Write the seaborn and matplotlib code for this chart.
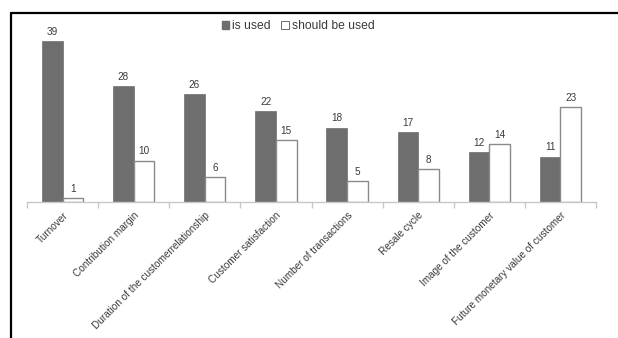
import matplotlib
matplotlib.use("Agg")
import matplotlib.pyplot as plt
import seaborn as sns
import pandas as pd
from matplotlib.lines import Line2D
from matplotlib.patches import Patch

categories = ["Turnover", "Contribution margin", "Duration of the customerrelationship",
              "Customer satisfaction", "Number of transactions", "Resale cycle",
              "Image of the customer", "Future monetary value of customer"]
is_used = [39, 28, 26, 22, 18, 17, 12, 11]
should_be_used = [1, 10, 6, 15, 5, 8, 14, 23]
series = ["is used", "should be used"]

df = pd.DataFrame({
    "category": categories * 2,
    "value": is_used + should_be_used,
    "series": [series[0]] * len(categories) + [series[1]] * len(categories),
})

sns.set_theme(style="white")
plt.rcParams["font.family"] = ["Liberation Sans", "DejaVu Sans"]

fig = plt.figure(figsize=(6.18, 3.38), dpi=100)
ax = fig.add_axes([27/618, 136/338, (596-27)/618, 182/338])

dark = "#6e6e6e"
edge = "#8a8a8a"
txt = "#3a3a3a"
sns.barplot(data=df, x="category", y="value", hue="series", order=categories,
            hue_order=series, palette=[dark, "white"], width=0.58, ax=ax,
            legend=False, saturation=1)

for i, cont in enumerate(ax.containers):
    for p in cont.patches:
        if i == 0:
            p.set_edgecolor(dark)
            p.set_linewidth(0.5)
        else:
            p.set_edgecolor(edge)
            p.set_linewidth(1.0)
    ax.bar_label(cont, labels=[str(v) for v in (is_used if i == 0 else should_be_used)],
                 padding=3, fontsize=7.2, color=txt)

ax.set_ylim(0, 44)
ax.set_xlim(-0.5, len(categories) - 0.5)
ax.set_xlabel("")
ax.set_ylabel("")
ax.set_yticks([])
for s in ["top", "right", "left"]:
    ax.spines[s].set_visible(False)
ax.spines["bottom"].set_color("#c8c8c8")
ax.spines["bottom"].set_linewidth(1.0)

ax.set_xticks(range(len(categories)))
ax.set_xticklabels(categories, rotation=45, ha="right", rotation_mode="anchor",
                   fontsize=7.2, color=txt)
ax.tick_params(axis="x", which="major", length=0, pad=6)
ax.set_xticks([i - 0.5 for i in range(len(categories) + 1)], minor=True)
ax.tick_params(axis="x", which="minor", length=4, color="#c8c8c8", width=1.0, bottom=True)

handles = [Patch(facecolor=dark, edgecolor=dark, label=series[0]),
           Patch(facecolor="white", edgecolor="#555555", linewidth=0.6, label=series[1])]
fig.legend(handles=handles, loc="center", bbox_to_anchor=(298/618, 1 - 26/338), ncol=2,
           frameon=False, fontsize=8.7, handlelength=0.6, handleheight=0.6,
           handletextpad=0.25, columnspacing=0.9, labelcolor=txt)

# outer frame (top and left)
fig.add_artist(Line2D([11/618, 1], [1 - 13/338, 1 - 13/338], color="black", lw=1.6,
                      transform=fig.transFigure))
fig.add_artist(Line2D([11/618, 11/618], [0, 1 - 13/338], color="black", lw=1.6,
                      transform=fig.transFigure))

fig.savefig("out.png", dpi=100)
